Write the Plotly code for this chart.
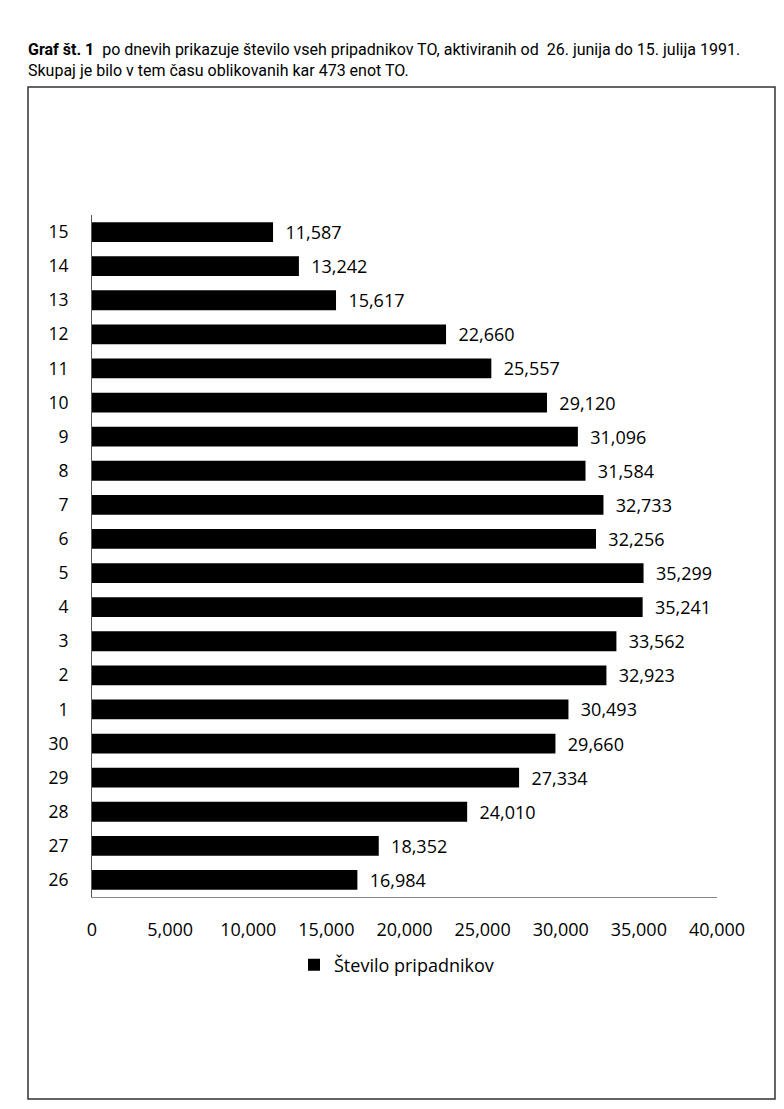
import plotly.graph_objects as go

days = ["26", "27", "28", "29", "30", "1", "2", "3", "4", "5", "6", "7", "8",
        "9", "10", "11", "12", "13", "14", "15"]
members = [16984, 18352, 24010, 27334, 29660, 30493, 32923, 33562, 35241, 35299,
           32256, 32733, 31584, 31096, 29120, 25557, 22660, 15617, 13242, 11587]
x_ticks = [0, 5000, 10000, 15000, 20000, 25000, 30000, 35000, 40000]
series_name = "Število pripadnikov"
title_line1 = "<b>Graf št. 1</b>  po dnevih prikazuje število vseh pripadnikov TO, aktiviranih od  26. junija do 15. julija 1991."
title_line2 = "Skupaj je bilo v tem času oblikovanih kar 473 enot TO."

W, H = 784, 1109
L, R, T, B = 84, 709, 207, 889
pw, ph = R - L, B - T

def px(x):
    return (x - L) / pw

def py(y):
    return (B - y) / ph

FONT = "Open Sans, Liberation Sans, sans-serif"

fig = go.Figure()
fig.add_trace(go.Bar(
    y=days, x=members, orientation="h",
    marker=dict(color="black", line=dict(width=0)),
    name=series_name,
    texttemplate="\u00a0\u00a0%{x:,}",
    textposition="outside",
    constraintext="none",
    textfont=dict(family=FONT, size=18, color="black"),
    cliponaxis=False,
    showlegend=True,
))

fig.update_layout(
    width=W, height=H,
    margin=dict(l=L, r=W - R, t=T, b=H - B, pad=0),
    paper_bgcolor="white", plot_bgcolor="white",
    bargap=0.42,
    font=dict(family=FONT, size=18, color="black"),
    showlegend=True,
    legend=dict(orientation="h", x=px(286), xanchor="left", y=py(957), yanchor="middle",
                font=dict(family=FONT, size=18, color="black"), bgcolor="rgba(0,0,0,0)",
                itemwidth=30),
    xaxis=dict(range=[0, 40000], tickvals=x_ticks, tickformat=",", showgrid=False,
               zeroline=False, showline=True, linecolor="#888888", linewidth=1,
               ticks="outside", ticklen=16, tickcolor="rgba(0,0,0,0)",
               tickfont=dict(family=FONT, size=18, color="black")),
    yaxis=dict(type="category", categoryorder="array", categoryarray=days,
               showgrid=False, zeroline=False, showline=True, linecolor="#555555",
               linewidth=1, ticks="outside", ticklen=19, tickcolor="rgba(0,0,0,0)",
               tickfont=dict(family=FONT, size=17.5, color="black")),
)

# page frame
fig.add_shape(type="rect", xref="paper", yref="paper",
              x0=px(20), x1=px(767), y0=py(1091), y1=py(79),
              line=dict(color="#333333", width=1.5), fillcolor="rgba(0,0,0,0)", layer="below")

fig.add_annotation(xref="paper", yref="paper", x=px(18), y=py(52), xanchor="left", yanchor="middle",
                   text=title_line1 + "<br>" + title_line2, showarrow=False, align="left",
                   font=dict(family="Roboto, Liberation Sans, sans-serif", size=16, color="black"))

fig.write_html("out.html")
